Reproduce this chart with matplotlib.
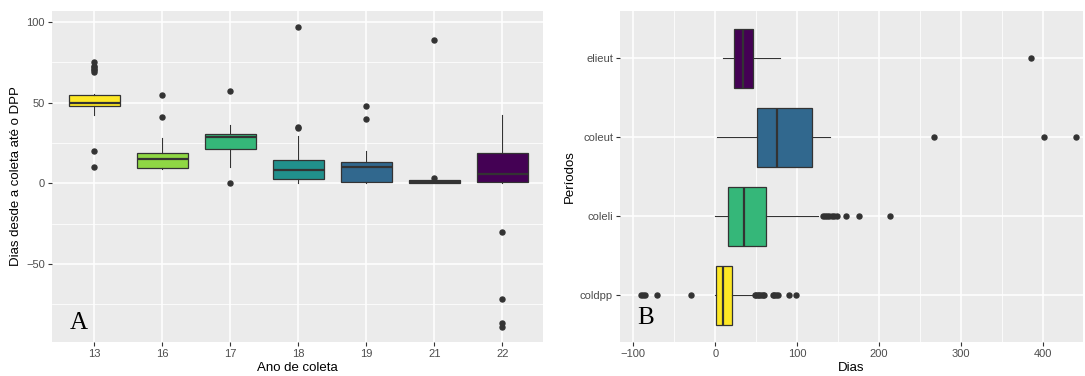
import matplotlib
matplotlib.use("Agg")
import matplotlib.pyplot as plt
from matplotlib.ticker import MultipleLocator, FixedLocator

plt.rcParams["font.family"] = ["Liberation Sans", "DejaVu Sans"]

# ---------------- Data: panel A ----------------
anos = ["13", "16", "17", "18", "19", "21", "22"]
cores_a = ["#FDE725", "#8FD744", "#35B779", "#21908C", "#31688E", "#443A83", "#440154"]
a_q1 = [47.7, 9.7, 21.0, 2.9, 1.0, 0.0, 1.0]
a_med = [50.0, 15.3, 28.5, 8.2, 9.9, 0.8, 5.6]
a_q3 = [54.5, 18.8, 30.8, 14.3, 13.0, 2.0, 18.8]
a_wlo = [42.3, 8.7, 10.3, 0.4, 0.0, 0.0, 0.3]
a_whi = [55.2, 28.0, 36.0, 29.0, 20.0, 2.0, 42.2]
a_out = [
    [69, 70, 71, 72, 73, 75, 20, 10],
    [55, 41],
    [57, 0],
    [97, 35, 34],
    [48, 40],
    [89, 3],
    [-30, -72, -86.6, -89],
]

# ---------------- Data: panel B ----------------
periodos = ["coldpp", "coleli", "coleut", "elieut"]
cores_b = ["#FDE725", "#35B779", "#31688E", "#440154"]
b_q1 = [1.2, 15.9, 50.5, 22.4]
b_med = [9.8, 35.4, 75.3, 33.4]
b_q3 = [20.4, 61.9, 118.0, 46.4]
b_wlo = [0.0, 0.0, 2.4, 8.9]
b_whi = [48.0, 126.0, 139.6, 79.0]
b_out = [
    [-90, -88, -86, -71, -30, 48, 50, 52, 54, 56, 58, 60, 70, 72, 74, 76, 90, 98],
    [132, 134, 136, 139, 142, 145, 148, 159, 175, 213],
    [267, 401, 440],
    [385],
]

BG = "#EBEBEB"
DARK = "#333333"
TICKC = "#4D4D4D"


def stats(q1, med, q3, wlo, whi, out, labels):
    res = []
    for i in range(len(q1)):
        res.append(dict(q1=q1[i], med=med[i], q3=q3[i], whislo=wlo[i],
                        whishi=whi[i], fliers=out[i], label=labels[i]))
    return res


def style(ax):
    ax.set_facecolor(BG)
    for s in ax.spines.values():
        s.set_visible(False)
    ax.tick_params(colors=DARK, labelcolor=TICKC, labelsize=8, length=3, width=0.8, pad=2)
    ax.tick_params(which="minor", length=0)
    ax.set_axisbelow(True)


def draw(ax, st, colors, vert):
    bp = ax.bxp(st, positions=range(len(st)), widths=0.75, vert=vert,
                patch_artist=True, showcaps=False,
                boxprops=dict(edgecolor=DARK, linewidth=0.9),
                medianprops=dict(color=DARK, linewidth=1.6),
                whiskerprops=dict(color=DARK, linewidth=0.8),
                flierprops=dict(marker="o", markersize=3.6, markerfacecolor=DARK,
                                markeredgecolor=DARK))
    for p, c in zip(bp["boxes"], colors):
        p.set_facecolor(c)
    return bp


fig = plt.figure(figsize=(10.85, 3.76), dpi=100)

# Panel A
axA = fig.add_axes([52 / 1085, 34 / 376, 491 / 1085, 331 / 376])
style(axA)
draw(axA, stats(a_q1, a_med, a_q3, a_wlo, a_whi, a_out, anos), cores_a, True)
axA.set_xlim(-0.62, len(anos) - 1 + 0.6)
axA.set_ylim(-98.4, 106.8)
axA.yaxis.set_major_locator(FixedLocator([-50, 0, 50, 100]))
axA.yaxis.set_minor_locator(FixedLocator([-75, -25, 25, 75]))
axA.set_xticks(range(len(anos)))
axA.set_xticklabels(anos)
axA.grid(which="major", color="white", linewidth=1.1)
axA.grid(which="minor", axis="y", color="white", linewidth=0.55)
axA.set_xlabel("Ano de coleta", fontsize=9.5, color="black", labelpad=2)
axA.set_ylabel("Dias desde a coleta até o DPP", fontsize=9.5, color="black", labelpad=3)
axA.text(0.036, 0.025, "A", transform=axA.transAxes, fontsize=18,
         family="Liberation Serif", ha="left", va="bottom")

# Panel B
axB = fig.add_axes([620 / 1085, 34 / 376, 463 / 1085, 331 / 376])
style(axB)
draw(axB, stats(b_q1, b_med, b_q3, b_wlo, b_whi, b_out, periodos), cores_b, False)
axB.set_ylim(-0.59, len(periodos) - 1 + 0.6)
axB.set_xlim(-116.2, 448.8)
axB.xaxis.set_major_locator(MultipleLocator(100))
axB.xaxis.set_minor_locator(FixedLocator([-50, 50, 150, 250, 350]))
axB.set_yticks(range(len(periodos)))
axB.set_yticklabels(periodos)
axB.grid(which="major", color="white", linewidth=1.1)
axB.grid(which="minor", axis="x", color="white", linewidth=0.55)
axB.set_xlabel("Dias", fontsize=9.5, color="black", labelpad=2)
axB.set_ylabel("Períodos", fontsize=9.5, color="black", labelpad=3)
axB.text(0.038, 0.04, "B", transform=axB.transAxes, fontsize=18,
         family="Liberation Serif", ha="left", va="bottom")

fig.savefig("out.png", dpi=100)
